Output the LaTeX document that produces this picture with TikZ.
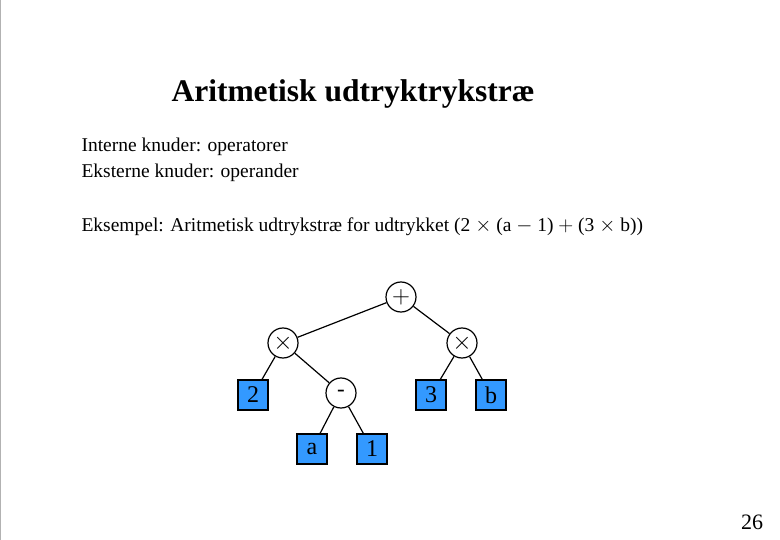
\documentclass[tikz,border=0pt]{standalone}
\usepackage{fontspec}
\setmainfont{Liberation Serif}
\definecolor{leafblue}{RGB}{51,153,255}
\begin{document}
\begin{tikzpicture}[x=1pt,y=-1pt,
  op/.style={circle,draw,line width=1.2pt,fill=white,minimum size=30pt,inner sep=0pt,font=\fontsize{23}{25}\selectfont},
  leaf/.style={rectangle,draw,line width=1.2pt,fill=leafblue,minimum size=30pt,inner sep=0pt,font=\fontsize{24}{26}\selectfont},
  edge/.style={line width=1.2pt}]
\useasboundingbox (0,0) rectangle (780,540);
\draw[gray!60,line width=1pt] (0.5,0) -- (0.5,540);
\node[anchor=west,font=\fontsize{31.5}{33}\selectfont\bfseries] (title) at (168,94) {Aritmetisk udtryktrykstræ};
\node[anchor=west,font=\fontsize{19.5}{21}\selectfont] (l1) at (78,147) {Interne knuder: operatorer};
\node[anchor=west,font=\fontsize{19.5}{21}\selectfont] (l2) at (78,173) {Eksterne knuder: operander};
\node[anchor=west,font=\fontsize{19.5}{21}\selectfont] (l3) at (78,227) {Eksempel: Aritmetisk udtrykstræ for udtrykket (2 $\times$ (a $-$ 1) $+$ (3 $\times$ b))};
\node[font=\fontsize{22}{24}\selectfont] (pg) at (752,522) {26};
\node[op] (plus) at (401,297) {$+$};
\node[op] (tl) at (283,343) {$\times$};
\node[op] (tr) at (462,343) {$\times$};
\node[op] (minus) at (341,393) {-};
\node[leaf] (two) at (253,395) {2};
\node[leaf] (three) at (431,395) {3};
\node[leaf] (b) at (491,395) {b};
\node[leaf] (a) at (312,449) {a};
\node[leaf] (one) at (372,449) {1};
\draw[edge] (plus) -- (tl);
\draw[edge] (plus) -- (tr);
\draw[edge] (tl) -- (two);
\draw[edge] (tl) -- (minus);
\draw[edge] (minus) -- (a);
\draw[edge] (minus) -- (one);
\draw[edge] (tr) -- (three);
\draw[edge] (tr) -- (b);
\end{tikzpicture}
\end{document}
